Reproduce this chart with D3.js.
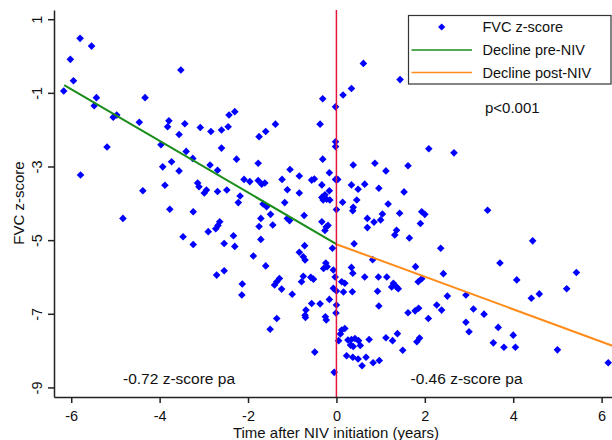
<!DOCTYPE html>
<html>
<head>
<meta charset="utf-8">
<script src="https://cdn.jsdelivr.net/npm/d3@7"></script>
<style>
  body { margin: 0; background: #fff; }
  svg text { font-family: "Liberation Sans", Arial, sans-serif; fill: #111; }
</style>
</head>
<body>
<div id="chart"></div>
<script>
// time after NIV initiation (years), FVC z-score
const fvcPoints = [
  [-5.80,0.48],[-5.54,0.27],[-6.02,-0.09],[-5.95,-0.67],[-6.17,-0.95],[-5.43,-1.13],[-5.48,-1.35],
  [-4.33,-1.13],[-3.52,-0.38],[-5.05,-1.66],[-4.97,-1.60],[-4.46,-1.80],[-3.79,-1.76],[-3.82,-1.92],
  [-3.43,-1.84],[-3.56,-2.13],[-3.08,-1.94],[-5.19,-2.47],[-3.97,-2.41],[-3.40,-2.59],[-5.79,-3.23],
  [-3.25,-2.78],[-3.73,-2.87],[-3.93,-3.01],[-3.56,-3.12],[-3.14,-3.45],[-3.11,-3.55],[-3.88,-3.51],
  [-4.38,-3.66],[-3.77,-4.16],[-3.24,-4.23],[-4.83,-4.41],[-3.47,-4.91],[-3.24,-5.12],
  [0.61,-0.20],[1.44,-0.64],[0.34,-0.88],[0.15,-1.06],[-0.31,-1.16],[-0.02,-1.38],[-0.37,-1.85],
  [-2.30,-1.51],[-2.43,-1.60],[-2.45,-1.92],[-2.60,-2.01],[-2.84,-2.05],[-1.38,-1.85],[-1.60,-2.05],
  [-1.75,-2.19],[-2.60,-2.50],[-0.02,-2.33],[-0.02,-2.46],
  [-2.26,-2.80],[-1.77,-2.91],[-2.86,-2.96],[-2.69,-3.10],[-2.09,-3.35],[-1.96,-3.41],[-1.77,-3.38],
  [-1.69,-3.48],[-1.62,-3.45],[-1.23,-3.35],[-1.05,-3.08],[-0.84,-3.26],[-0.56,-3.37],[-0.50,-3.34],
  [-0.31,-2.80],[-0.16,-3.17],[-0.02,-3.35],[0.03,-3.35],[0.38,-2.96],[0.87,-2.91],[1.12,-3.12],
  [0.34,-3.50],[0.49,-3.62],[0.64,-3.48],[0.96,-3.59],[1.53,-3.69],[1.62,-2.98],[-2.94,-3.64],
  [-2.99,-3.72],[-2.69,-3.68],[-2.48,-3.64],[-2.18,-3.80],[-2.22,-3.98],[-1.11,-3.63],[-0.84,-3.72],
  [-0.33,-3.50],[-0.16,-3.66],[-0.26,-3.77],[-0.33,-3.84],[-0.22,-3.89],[-0.15,-3.91],[-0.30,-3.91],
  [0.14,-3.97],[0.46,-3.91],[0.00,-4.17],[0.38,-4.11],[0.37,-4.20],[1.17,-4.02],[-1.66,-4.02],
  [-1.58,-4.09],[-1.17,-3.98],[-1.49,-4.30],[-1.71,-4.41],[-1.11,-4.41],[-1.06,-4.47],[-0.73,-4.33],
  [-1.75,-4.63],[-1.44,-4.59],[-0.33,-4.50],[-0.23,-4.64],[-0.19,-4.60],[-0.26,-4.74],[0.70,-4.41],
  [0.85,-4.51],[1.00,-4.45],[1.04,-4.29],[0.70,-4.66],[1.43,-4.27],[1.36,-4.73],[1.32,-4.86],
  [1.65,-4.94],[-2.64,-4.50],[-2.68,-4.60],[-2.73,-4.69],[-2.90,-4.77],[-2.33,-4.88],[-2.30,-5.17],
  [-2.54,-5.09],[-1.71,-4.98],[-1.88,-5.43],[-0.72,-5.15],[-0.84,-5.33],[-0.09,-5.22],[0.40,-5.10],
  [-0.75,-5.45],[-0.71,-5.54],[0.82,-5.53],[-0.24,-5.62],[-0.21,-5.72],[-0.29,-5.77],[-0.07,-5.81],
  [-0.03,-6.00],[0.34,-5.74],[0.37,-5.90],[-1.60,-5.70],[-2.71,-5.95],[-2.54,-5.83],[-2.13,-6.19],
  [-2.14,-6.49],[-1.29,-6.04],[-1.35,-6.13],[-1.40,-6.22],[-1.24,-6.33],[-1.00,-6.47],[-0.75,-5.98],
  [-0.79,-6.13],[-0.58,-6.01],[-0.52,-6.06],[0.12,-6.13],[0.19,-6.17],[-0.07,-6.31],[0.00,-6.38],
  [0.16,-6.41],[0.36,-6.40],[0.64,-6.00],[0.95,-6.00],[1.14,-6.00],[1.29,-6.17],[1.36,-6.27],
  [1.25,-6.27],[1.40,-6.32],[0.93,-6.39],[-0.16,-6.61],[-0.56,-6.72],[-0.37,-6.73],[0.00,-6.76],
  [-0.01,-6.98],[-0.69,-6.90],[-0.71,-7.04],[-0.70,-7.10],[-0.25,-7.08],[-0.23,-7.17],[0.96,-6.79],
  [1.62,-6.97],[1.78,-6.92],[1.86,-6.85],[-1.35,-7.13],[-1.50,-7.42],[0.12,-7.44],[0.19,-7.40],
  [0.09,-7.55],[0.05,-7.73],[0.26,-7.71],[0.34,-7.70],[0.42,-7.67],[0.50,-7.73],[0.32,-7.85],
  [0.38,-7.89],[0.54,-7.86],[0.74,-7.70],[1.12,-7.65],[1.27,-7.73],[1.38,-7.54],[1.88,-7.66],
  [1.82,-7.76],[1.50,-7.99],[-0.49,-8.04],[0.23,-8.14],[0.37,-8.18],[0.49,-8.23],[0.58,-8.41],
  [0.67,-8.18],[0.83,-8.33],[0.97,-8.27],[-0.05,-8.59],
  [2.09,-2.52],[2.66,-2.63],[1.93,-4.23],[2.00,-4.30],[1.90,-4.55],[2.36,-5.22],[3.42,-4.19],
  [4.44,-5.02],[3.70,-5.62],[4.08,-6.08],[5.43,-5.88],[5.21,-6.32],[4.59,-6.46],[4.41,-6.58],
  [1.79,-5.72],[2.42,-5.91],[1.85,-6.13],[1.93,-6.05],[2.51,-6.52],[2.93,-6.49],[2.27,-6.76],
  [2.38,-6.90],[2.08,-7.13],[3.10,-6.87],[3.34,-7.01],[2.93,-7.23],[3.00,-7.49],[3.66,-7.37],
  [4.00,-7.58],[4.05,-7.91],[3.55,-7.79],[3.79,-7.91],[5.00,-7.98],[6.15,-8.33]
];

// fitted lines, endpoints
const preLine = [[-6.16, -0.79], [0, -5.11]];
const postLine = [[0, -5.11], [6.25, -7.87]];

const xTicks = [-6, -4, -2, 0, 2, 4, 6];
const yTicks = [1, -1, -3, -5, -7, -9];
const legendLabels = ["FVC z-score", "Decline pre-NIV", "Decline post-NIV"];
const slopeLabels = ["-0.72 z-score pa", "-0.46 z-score pa"];
const pLabel = "p<0.001";

const W = 612, H = 440;
const blue = "#0000ff", green = "#1a8c1a", orange = "#ff8c1a", red = "#e3173d";

const svg = d3.select("#chart").append("svg")
  .attr("width", W).attr("height", H);

const x = d3.scaleLinear().domain([-6.39, 6.235]).range([54, 612]);
const y = d3.scaleLinear().domain([-9.26, 1.25]).range([397, 10]);

const diamond = r => `M0,${-r}L${r},0L0,${r}L${-r},0Z`;

// points
svg.append("g")
  .selectAll("path")
  .data(fvcPoints)
  .join("path")
  .attr("d", diamond(3.8))
  .attr("transform", d => `translate(${x(d[0])},${y(d[1])})`)
  .attr("fill", blue);

// regression lines
const line = d3.line().x(d => x(d[0])).y(d => y(d[1]));
svg.append("path").attr("d", line(preLine))
  .attr("stroke", green).attr("stroke-width", 2).attr("fill", "none");
svg.append("path").attr("d", line(postLine))
  .attr("stroke", orange).attr("stroke-width", 2).attr("fill", "none");

// NIV start
svg.append("line")
  .attr("x1", x(0)).attr("x2", x(0))
  .attr("y1", y(1.25)).attr("y2", y(-9.26))
  .attr("stroke", red).attr("stroke-width", 1.5);

// axes (plain hyphen minus like the original)
const fmt = d => String(d);
const xAxis = svg.append("g")
  .attr("transform", `translate(0,397)`)
  .call(d3.axisBottom(x).tickValues(xTicks).tickSize(6).tickSizeOuter(0).tickFormat(fmt));
xAxis.selectAll("text").attr("y", 24).attr("dy", null).style("font-size", "14.5px");

const yAxis = svg.append("g")
  .attr("transform", `translate(54,0)`)
  .call(d3.axisLeft(y).tickValues(yTicks).tickSize(6).tickSizeOuter(0).tickFormat(fmt));
yAxis.selectAll("text")
  .attr("x", null).attr("dy", null)
  .attr("text-anchor", "middle")
  .attr("transform", "translate(-12.5,0) rotate(-90)")
  .style("font-size", "14.5px");

svg.selectAll(".domain, .tick line").attr("stroke", "#222").attr("stroke-width", 1.5);
svg.selectAll(".tick text").attr("fill", "#111");

svg.append("text")
  .attr("x", 336).attr("y", 437.5)
  .attr("text-anchor", "middle")
  .style("font-size", "15px")
  .text("Time after NIV initiation (years)");

svg.append("text")
  .attr("transform", "translate(23.5,203) rotate(-90)")
  .attr("text-anchor", "middle")
  .style("font-size", "15px")
  .text("FVC z-score");

// annotations
svg.append("text").attr("x", 123).attr("y", 384).style("font-size", "15.5px").text(slopeLabels[0]);
svg.append("text").attr("x", 410.5).attr("y", 383.5).style("font-size", "15.5px").text(slopeLabels[1]);
svg.append("text").attr("x", 485).attr("y", 113).style("font-size", "15px").text(pLabel);

// legend
const lg = svg.append("g");
lg.append("rect")
  .attr("x", 408.5).attr("y", 15.5).attr("width", 202.5).attr("height", 68.5)
  .attr("fill", "#fff").attr("stroke", "#333").attr("stroke-width", 1.2);
const rowY = [27, 50, 72.5];
lg.append("path").attr("d", diamond(3.6))
  .attr("transform", `translate(441.7,${rowY[0]})`).attr("fill", blue);
[green, orange].forEach((c, i) => {
  lg.append("line")
    .attr("x1", 411.5).attr("x2", 472).attr("y1", rowY[i + 1]).attr("y2", rowY[i + 1])
    .attr("stroke", c).attr("stroke-width", 1.5);
});
lg.selectAll("text.lab")
  .data(legendLabels)
  .join("text")
  .attr("class", "lab")
  .attr("x", 482.5)
  .attr("y", (d, i) => rowY[i] + 5.3)
  .style("font-size", "14.5px")
  .text(d => d);
</script>
</body>
</html>
